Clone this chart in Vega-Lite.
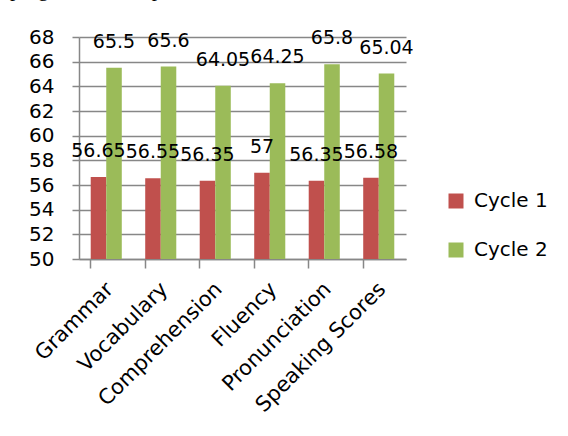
{
  "$schema": "https://vega.github.io/schema/vega-lite/v6.json",
  "autosize": {"type": "none"},
  "padding": {"left": 79, "top": 37, "right": 162, "bottom": 177},
  "width": 327,
  "height": 222,
  "background": "white",
  "title": {
    "text": "progress in all aspects.",
    "anchor": "start",
    "frame": "group",
    "orient": "top",
    "font": "Liberation Serif",
    "fontSize": 21,
    "fontWeight": "normal",
    "color": "black",
    "baseline": "alphabetic",
    "offset": 10,
    "dx": -69
  },
  "data": {
    "values": [
      {"skill": "Grammar", "cycle": "Cycle 1", "score": 56.65},
      {"skill": "Grammar", "cycle": "Cycle 2", "score": 65.5},
      {"skill": "Vocabulary", "cycle": "Cycle 1", "score": 56.55},
      {"skill": "Vocabulary", "cycle": "Cycle 2", "score": 65.6},
      {"skill": "Comprehension", "cycle": "Cycle 1", "score": 56.35},
      {"skill": "Comprehension", "cycle": "Cycle 2", "score": 64.05},
      {"skill": "Fluency", "cycle": "Cycle 1", "score": 57},
      {"skill": "Fluency", "cycle": "Cycle 2", "score": 64.25},
      {"skill": "Pronunciation", "cycle": "Cycle 1", "score": 56.35},
      {"skill": "Pronunciation", "cycle": "Cycle 2", "score": 65.8},
      {"skill": "Speaking Scores", "cycle": "Cycle 1", "score": 56.58},
      {"skill": "Speaking Scores", "cycle": "Cycle 2", "score": 65.04}
    ]
  },
  "encoding": {
    "x": {
      "field": "skill",
      "type": "nominal",
      "sort": null,
      "scale": {"paddingInner": 0.43, "paddingOuter": 0.215},
      "axis": null
    },
    "xOffset": {"field": "cycle", "type": "nominal", "scale": {"paddingInner": 0, "paddingOuter": 0}},
    "y": {
      "field": "score",
      "type": "quantitative",
      "scale": {"domain": [50, 68], "nice": false, "zero": false},
      "axis": {
        "title": null,
        "values": [50, 52, 54, 56, 58, 60, 62, 64, 66, 68],
        "labelOverlap": false,
        "labelFontSize": 20,
        "labelFont": "DejaVu Sans",
        "labelColor": "black",
        "labelPadding": 18,
        "tickSize": 7,
        "tickColor": "#878787",
        "tickWidth": 1.5,
        "domainColor": "#878787",
        "domainWidth": 1.5,
        "grid": true,
        "gridColor": "#878787",
        "gridWidth": 1.5
      }
    }
  },
  "layer": [
    {
      "mark": {"type": "bar"},
      "encoding": {
        "x": {
          "field": "skill",
          "type": "nominal",
          "sort": null,
          "axis": {
            "orient": "bottom",
            "title": null,
            "labelAngle": -45,
            "labelAlign": "right",
            "labelBaseline": "top",
            "labelFontSize": 21,
            "labelFont": "DejaVu Sans",
            "labelColor": "black",
            "labelPadding": 19,
            "labelOffset": -4,
            "labelOverlap": false,
            "labelBound": false,
            "ticks": false,
            "domain": false,
            "grid": false
          }
        },
        "y2": {"datum": 50},
        "color": {
          "field": "cycle",
          "type": "nominal",
          "scale": {"domain": ["Cycle 1", "Cycle 2"], "range": ["#C0504D", "#9BBB59"]},
          "legend": {
            "title": null,
            "orient": "none",
            "legendX": 367,
            "legendY": 154,
            "symbolType": "square",
            "symbolSize": 225,
            "symbolStrokeWidth": 0,
            "labelFontSize": 20,
            "labelFont": "DejaVu Sans",
            "labelColor": "black",
            "labelOffset": 8,
            "rowPadding": 29,
            "padding": 0
          }
        }
      }
    },
    {
      "mark": {"type": "text", "font": "DejaVu Sans", "fontSize": 19, "baseline": "bottom", "dy": -16, "color": "black"},
      "encoding": {
        "text": {"field": "score", "type": "nominal"}
      }
    },
    {
      "mark": {"type": "tick", "opacity": 0},
      "encoding": {
        "x": {
          "field": "skill",
          "type": "nominal",
          "sort": null,
          "axis": {
            "orient": "bottom",
            "title": null,
            "labels": false,
            "bandPosition": 0,
            "tickSize": 9,
            "tickColor": "#878787",
            "tickWidth": 1.5,
            "domainColor": "#878787",
            "domainWidth": 1.5,
            "grid": false
          }
        },
        "xOffset": null
      }
    }
  ],
  "resolve": {"axis": {"x": "independent"}},
  "config": {"view": {"stroke": null}}
}
